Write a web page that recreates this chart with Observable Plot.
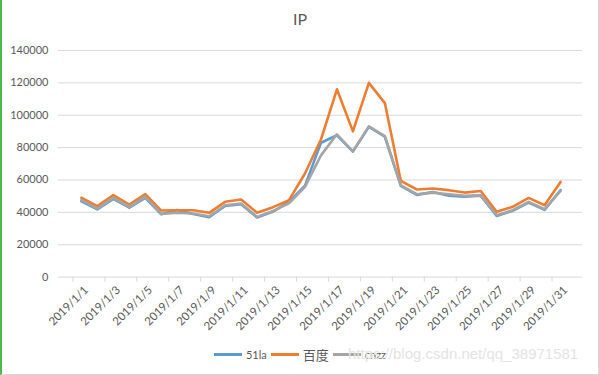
<!DOCTYPE html>
<html>
<head>
<meta charset="utf-8">
<script src="https://cdn.jsdelivr.net/npm/d3@7"></script>
<script src="https://cdn.jsdelivr.net/npm/@observablehq/plot@0.6"></script>
<style>
  body { margin: 0; background: #fff; }
  #wrap { position: relative; width: 599px; height: 375px; box-sizing: border-box; overflow: hidden;
          border-left: 2px solid #4cb94c; border-right: 1px solid #d9d9d9; border-bottom: 1px solid #d9d9d9;
          font-family: Lato, "Noto Sans CJK SC", sans-serif; color: #595959; }
  #title { height: 36px; box-sizing: border-box; padding-top: 10px; text-align: center; font-size: 16px; line-height: 18px; color: #595959; }
  #chart { position: absolute; left: -2px; top: 36px; }
  #legend { position: absolute; left: 0; right: 0; top: 345px; display: flex; justify-content: center; align-items: center; font-size: 11px; color: #595959; }
  .item { display: flex; align-items: center; margin: 0 2px; }
  .sw { width: 28px; height: 0; border-top: 3px solid; margin-right: 4px; }
  #wm { position: absolute; left: 346px; top: 345px; font-family: "Liberation Sans", Arial, sans-serif; font-size: 15px; color: #e4e4e4; white-space: nowrap; pointer-events: none; }
</style>
</head>
<body>
<div id="wrap">
  <div id="title"></div>
  <div id="chart"></div>
  <div id="legend"></div>
  <div id="wm"></div>
</div>
<script>
const titleText = "IP";
const days = ["2019/1/1","2019/1/2","2019/1/3","2019/1/4","2019/1/5","2019/1/6","2019/1/7","2019/1/8","2019/1/9","2019/1/10",
  "2019/1/11","2019/1/12","2019/1/13","2019/1/14","2019/1/15","2019/1/16","2019/1/17","2019/1/18","2019/1/19","2019/1/20",
  "2019/1/21","2019/1/22","2019/1/23","2019/1/24","2019/1/25","2019/1/26","2019/1/27","2019/1/28","2019/1/29","2019/1/30","2019/1/31"];
const tickDays = ["2019/1/1","2019/1/3","2019/1/5","2019/1/7","2019/1/9","2019/1/11","2019/1/13","2019/1/15",
  "2019/1/17","2019/1/19","2019/1/21","2019/1/23","2019/1/25","2019/1/27","2019/1/29","2019/1/31"];
const yTicks = [0, 20000, 40000, 60000, 80000, 100000, 120000, 140000];
const seriesNames = ["51la", "百度", "cnzz"];
const seriesColors = ["#5B9BD5", "#ED7D31", "#A5A5A5"];
const la51 = [46800, 41800, 48300, 42900, 49000, 38800, 41500, 39000, 37000, 43900, 45000, 36800, 40500, 46500, 56500,
  83000, 87600, 77500, 92800, 86700, 56300, 50800, 52500, 50200, 49700, 50300, 37800, 40900, 46000, 41500, 53800];
const baidu = [49000, 43800, 50600, 44800, 51200, 41100, 41300, 41300, 39700, 46500, 47900, 39700, 43200, 47500, 64000,
  85000, 116000, 90000, 120000, 107500, 59400, 54100, 54700, 53700, 52200, 53200, 40300, 43400, 48900, 44400, 58800];
const cnzz = [47500, 42300, 48900, 43400, 49500, 39000, 39700, 39300, 37600, 44400, 45500, 37200, 40900, 45500, 55700,
  75200, 88200, 77700, 93100, 87100, 56700, 51200, 52200, 51200, 50200, 50500, 38200, 41300, 46500, 41900, 53200];
const watermark = "https://blog.csdn.net/qq_38971581";

const seriesValues = [la51, baidu, cnzz];
const rows = [];
seriesNames.forEach((name, s) => days.forEach((d, i) => rows.push({day: d, value: seriesValues[s][i], series: name})));

document.getElementById("title").textContent = titleText;
document.getElementById("wm").textContent = watermark;

const font = "Lato, 'Noto Sans CJK SC', sans-serif";
const plot = Plot.plot({
  width: 599,
  height: 300,
  marginLeft: 58,
  marginRight: 16,
  marginTop: 14,
  marginBottom: 59,
  style: {fontFamily: font, fontSize: "11px", color: "#595959", background: "transparent"},
  x: {type: "point", domain: days, padding: 0.5},
  y: {domain: [0, 140000]},
  color: {domain: seriesNames, range: seriesColors},
  marks: [
    Plot.gridY(yTicks, {stroke: "#d9d9d9", strokeOpacity: 1}),
    Plot.axisY(yTicks, {tickSize: 0, tickPadding: 10, tickFormat: d => String(d), label: null, fill: "#595959"}),
    Plot.axisX(tickDays, {tickSize: 5, tickFormat: () => "", dx: -8.5, stroke: "#d9d9d9", label: null}),
    Plot.axisX(tickDays, {tickSize: 0, tickPadding: 5, tickRotate: -45, dx: 5, dy: 6, fontSize: 11.5, label: null, fill: "#595959"}),
    Plot.line(rows, {x: "day", y: "value", z: "series", stroke: "series", strokeWidth: 2.6, strokeLinejoin: "round"})
  ]
});
document.getElementById("chart").appendChild(plot);

const legend = document.getElementById("legend");
seriesNames.forEach((n, i) => {
  const it = document.createElement("div");
  it.className = "item";
  const sw = document.createElement("div");
  sw.className = "sw";
  sw.style.borderTopColor = seriesColors[i];
  const t = document.createElement("span");
  t.textContent = n;
  if (n === "百度") t.style.fontSize = "13px";
  it.appendChild(sw); it.appendChild(t);
  legend.appendChild(it);
});
</script>
</body>
</html>
